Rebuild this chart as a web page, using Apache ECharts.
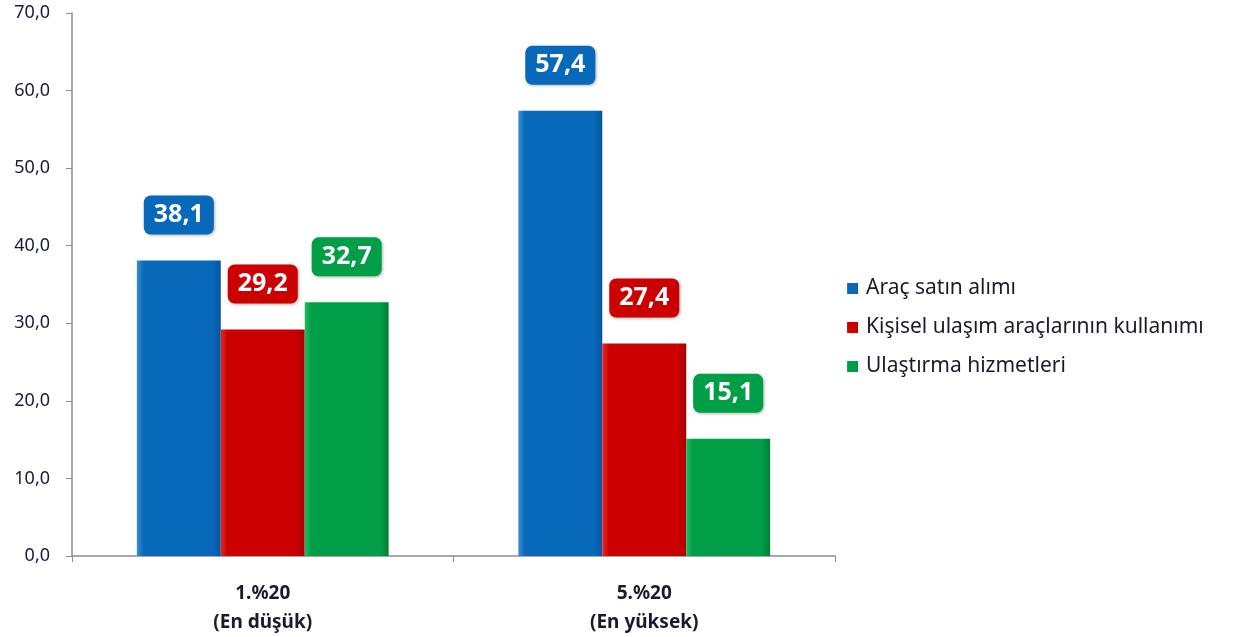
<!DOCTYPE html>
<html><head><meta charset="utf-8">
<script src="https://cdn.jsdelivr.net/npm/echarts@6/dist/echarts.min.js"></script>
<style>html,body{margin:0;padding:0;background:#fff}#c{width:1238px;height:637px}</style>
</head><body><div id="c"></div>
<script>
const categories = ['1.%20\n(En düşük)', '5.%20\n(En yüksek)'];
const seriesNames = ['Araç satın alımı', 'Kişisel ulaşım araçlarının kullanımı', 'Ulaştırma hizmetleri'];
const aracSatin = [38.1, 57.4];
const kisisel = [29.2, 27.4];
const ulastirma = [32.7, 15.1];
const colors = ['#0868BA', '#CC0000', '#009E47'];
const dark = ['#04569E', '#A80000', '#007E37'];
const light = ['#3A8ED6', '#E02A2A', '#25B862'];

function grad(i){
  return new echarts.graphic.LinearGradient(0,0,1,0,[
    {offset:0,color:light[i]},{offset:0.08,color:colors[i]},{offset:0.9,color:colors[i]},{offset:1,color:dark[i]}
  ]);
}
const font = 'Noto Sans';
const dataList = [aracSatin, kisisel, ulastirma];
const chart = echarts.init(document.getElementById('c'));
chart.setOption({
  animation:false,
  backgroundColor:'#fff',
  textStyle:{fontFamily:font},
  grid:{left:72,right:403,top:13,bottom:81,containLabel:false},
  legend:{
    orient:'vertical', left:842, top:273, itemGap:18, itemWidth:11, itemHeight:11,
    icon:'rect',
    textStyle:{fontFamily:font,fontSize:21,color:'#1a1a2e',padding:[0,0,0,3]},
    data:seriesNames
  },
  xAxis:{
    type:'category', data:categories,
    axisLine:{lineStyle:{color:'#8c8c8c',width:1.5}},
    axisTick:{show:true,length:6,alignWithLabel:false,lineStyle:{color:'#8c8c8c'}},
    axisLabel:{fontFamily:font,fontWeight:'bold',fontSize:19,color:'#1a1a2e',margin:23,lineHeight:29}
  },
  yAxis:{
    type:'value', min:0, max:70, interval:10,
    axisLine:{show:true,lineStyle:{color:'#8c8c8c',width:1.5}},
    axisTick:{show:true,length:6,lineStyle:{color:'#8c8c8c'}},
    splitLine:{show:false},
    axisLabel:{fontFamily:font,fontSize:18,color:'#1a1a3e',margin:22,
      formatter:v=>v.toFixed(1).replace('.',',')}
  },
  series: seriesNames.map((n,i)=>({
    name:n, type:'bar', data:dataList[i], barGap:'0%', barCategoryGap:'34%',
    itemStyle:{color:grad(i)},
    label:{
      show:true, position:'top', distance:26,
      formatter:p=>p.value.toFixed(1).replace('.',','),
      backgroundColor:colors[i], borderRadius:7, padding:[7,10,7,10],
      color:'#fff', fontFamily:font, fontWeight:'bold', fontSize:25, lineHeight:25,
      shadowColor:'rgba(0,0,0,0.3)', shadowBlur:3, shadowOffsetX:1, shadowOffsetY:1
    }
  }))
});
</script></body></html>
